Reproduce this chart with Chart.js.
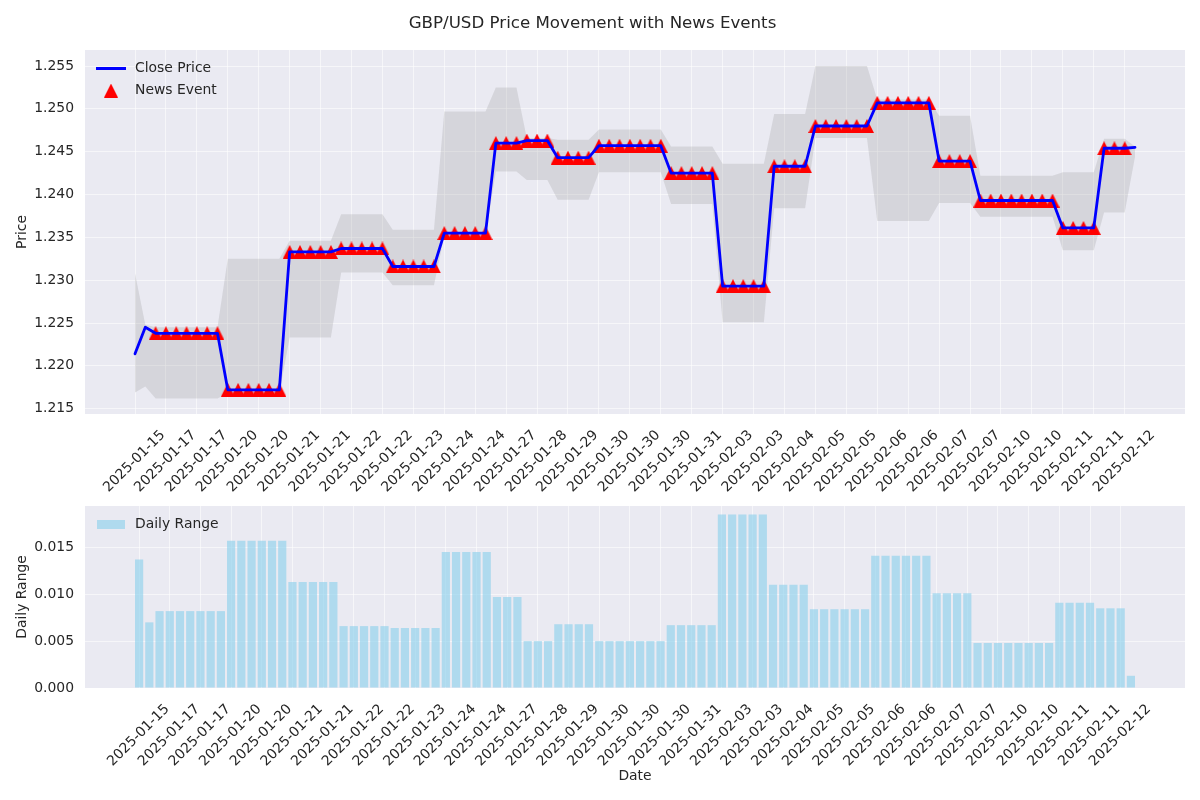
<!DOCTYPE html>
<html>
<head>
<meta charset="utf-8">
<title>GBP/USD Price Movement with News Events</title>
<script src="https://cdn.jsdelivr.net/npm/chart.js@4.4.1/dist/chart.umd.min.js"></script>
<style>
    body { margin: 0; background: #fff; }
    #wrap { position: relative; width: 1200px; height: 800px; }
    canvas { position: absolute; left: 0; }
    #priceChart { top: 0; }
    #rangeChart { top: 500px; }
</style>
</head>
<body>
<div id="wrap">
    <canvas id="priceChart" width="1200" height="500"></canvas>
    <canvas id="rangeChart" width="1200" height="300"></canvas>
</div>
<script>
// one value per bar (98 periods)
const closePrice = [
    1.2214, 1.2245,
    1.2238, 1.2238, 1.2238, 1.2238, 1.2238, 1.2238, 1.2238,
    1.2172, 1.2172, 1.2172, 1.2172, 1.2172, 1.2172,
    1.2333, 1.2333, 1.2333, 1.2333, 1.2333,
    1.2337, 1.2337, 1.2337, 1.2337, 1.2337,
    1.2316, 1.2316, 1.2316, 1.2316, 1.2316,
    1.2355, 1.2355, 1.2355, 1.2355, 1.2355,
    1.2460, 1.2460, 1.2460,
    1.2463, 1.2463, 1.2463,
    1.2443, 1.2443, 1.2443, 1.2443,
    1.2457, 1.2457, 1.2457, 1.2457, 1.2457, 1.2457, 1.2457,
    1.2425, 1.2425, 1.2425, 1.2425, 1.2425,
    1.2293, 1.2293, 1.2293, 1.2293, 1.2293,
    1.2433, 1.2433, 1.2433, 1.2433,
    1.2480, 1.2480, 1.2480, 1.2480, 1.2480, 1.2480,
    1.2507, 1.2507, 1.2507, 1.2507, 1.2507, 1.2507,
    1.2439, 1.2439, 1.2439, 1.2439,
    1.2393, 1.2393, 1.2393, 1.2393, 1.2393, 1.2393, 1.2393, 1.2393,
    1.2361, 1.2361, 1.2361, 1.2361,
    1.2454, 1.2454, 1.2454,
    1.2455
];

const highPrice = [
    1.2308, 1.2248,
    1.2245, 1.2245, 1.2245, 1.2245, 1.2245, 1.2245, 1.2245,
    1.2325, 1.2325, 1.2325, 1.2325, 1.2325, 1.2325,
    1.2346, 1.2346, 1.2346, 1.2346, 1.2346,
    1.2377, 1.2377, 1.2377, 1.2377, 1.2377,
    1.2359, 1.2359, 1.2359, 1.2359, 1.2359,
    1.2497, 1.2497, 1.2497, 1.2497, 1.2497,
    1.2525, 1.2525, 1.2525,
    1.2466, 1.2466, 1.2466,
    1.2464, 1.2464, 1.2464, 1.2464,
    1.2476, 1.2476, 1.2476, 1.2476, 1.2476, 1.2476, 1.2476,
    1.2456, 1.2456, 1.2456, 1.2456, 1.2456,
    1.2436, 1.2436, 1.2436, 1.2436, 1.2436,
    1.2494, 1.2494, 1.2494, 1.2494,
    1.2550, 1.2550, 1.2550, 1.2550, 1.2550, 1.2550,
    1.2511, 1.2511, 1.2511, 1.2511, 1.2511, 1.2511,
    1.2492, 1.2492, 1.2492, 1.2492,
    1.2422, 1.2422, 1.2422, 1.2422, 1.2422, 1.2422, 1.2422, 1.2422,
    1.2426, 1.2426, 1.2426, 1.2426,
    1.2465, 1.2465, 1.2465,
    1.2456
];

const lowPrice = [
    1.2169, 1.2176,
    1.2162, 1.2162, 1.2162, 1.2162, 1.2162, 1.2162, 1.2162,
    1.2168, 1.2168, 1.2168, 1.2168, 1.2168, 1.2168,
    1.2233, 1.2233, 1.2233, 1.2233, 1.2233,
    1.2309, 1.2309, 1.2309, 1.2309, 1.2309,
    1.2294, 1.2294, 1.2294, 1.2294, 1.2294,
    1.2352, 1.2352, 1.2352, 1.2352, 1.2352,
    1.2427, 1.2427, 1.2427,
    1.2417, 1.2417, 1.2417,
    1.2394, 1.2394, 1.2394, 1.2394,
    1.2426, 1.2426, 1.2426, 1.2426, 1.2426, 1.2426, 1.2426,
    1.2389, 1.2389, 1.2389, 1.2389, 1.2389,
    1.2251, 1.2251, 1.2251, 1.2251, 1.2251,
    1.2384, 1.2384, 1.2384, 1.2384,
    1.2466, 1.2466, 1.2466, 1.2466, 1.2466, 1.2466,
    1.2369, 1.2369, 1.2369, 1.2369, 1.2369, 1.2369,
    1.2390, 1.2390, 1.2390, 1.2390,
    1.2374, 1.2374, 1.2374, 1.2374, 1.2374, 1.2374, 1.2374, 1.2374,
    1.2335, 1.2335, 1.2335, 1.2335,
    1.2379, 1.2379, 1.2379,
    1.2444
];

const dailyRange = [
    0.0137, 0.0070,
    0.0082, 0.0082, 0.0082, 0.0082, 0.0082, 0.0082, 0.0082,
    0.0157, 0.0157, 0.0157, 0.0157, 0.0157, 0.0157,
    0.0113, 0.0113, 0.0113, 0.0113, 0.0113,
    0.0066, 0.0066, 0.0066, 0.0066, 0.0066,
    0.0064, 0.0064, 0.0064, 0.0064, 0.0064,
    0.0145, 0.0145, 0.0145, 0.0145, 0.0145,
    0.0097, 0.0097, 0.0097,
    0.0050, 0.0050, 0.0050,
    0.0068, 0.0068, 0.0068, 0.0068,
    0.0050, 0.0050, 0.0050, 0.0050, 0.0050, 0.0050, 0.0050,
    0.0067, 0.0067, 0.0067, 0.0067, 0.0067,
    0.0185, 0.0185, 0.0185, 0.0185, 0.0185,
    0.0110, 0.0110, 0.0110, 0.0110,
    0.0084, 0.0084, 0.0084, 0.0084, 0.0084, 0.0084,
    0.0141, 0.0141, 0.0141, 0.0141, 0.0141, 0.0141,
    0.0101, 0.0101, 0.0101, 0.0101,
    0.0048, 0.0048, 0.0048, 0.0048, 0.0048, 0.0048, 0.0048, 0.0048,
    0.0091, 0.0091, 0.0091, 0.0091,
    0.0085, 0.0085, 0.0085,
    0.0013
];

// 1 = a news event marker sits on that close
const newsEvent = [
    0, 0,
    1, 1, 1, 1, 1, 1, 1, 1, 1, 1, 1, 1, 1, 1, 1, 1, 1, 1, 1, 1, 1, 1,
    1, 1, 1, 1, 1, 1, 1, 1, 1, 1, 1, 1, 1, 1, 1, 1, 1, 1, 1, 1, 1, 1,
    1, 1, 1, 1, 1, 1, 1, 1, 1, 1, 1, 1, 1, 1, 1, 1, 1, 1, 1, 1, 1, 1,
    1, 1, 1, 1, 1, 1, 1, 1, 1, 1, 1, 1, 1, 1, 1, 1, 1, 1, 1, 1, 1, 1,
    1, 1, 1, 1, 1, 1, 1,
    0
];

// labels shown on every third period
const tickLabels = [
    '2025-01-15', '2025-01-17', '2025-01-17', '2025-01-20', '2025-01-20', '2025-01-21',
    '2025-01-21', '2025-01-22', '2025-01-22', '2025-01-23', '2025-01-24', '2025-01-24',
    '2025-01-27', '2025-01-28', '2025-01-29', '2025-01-30', '2025-01-30', '2025-01-30',
    '2025-01-31', '2025-02-03', '2025-02-03', '2025-02-04', '2025-02-05', '2025-02-05',
    '2025-02-06', '2025-02-06', '2025-02-07', '2025-02-07', '2025-02-10', '2025-02-10',
    '2025-02-11', '2025-02-11', '2025-02-12'
];
const tickStep = 3;

const priceTicks = [1.215, 1.220, 1.225, 1.230, 1.235, 1.240, 1.245, 1.250, 1.255];
const rangeTicks = [0, 0.005, 0.010, 0.015];

const TEXT = '#262626';
const GRID = 'rgba(255, 255, 255, 0.55)';

Chart.defaults.font.family = '"DejaVu Sans", sans-serif';
Chart.defaults.font.size = 13.9;
Chart.defaults.color = TEXT;

const toPoints = (arr) => arr.map((y, i) => ({ x: i, y: y }));

function makeIcon(w, h, draw) {
    const c = document.createElement('canvas');
    c.width = w;
    c.height = h;
    draw(c.getContext('2d'), w, h);
    return c;
}

const triangleIcon = makeIcon(14, 14, (g, w, h) => {
    g.fillStyle = '#ff0000';
    g.beginPath();
    g.moveTo(w / 2, 0);
    g.lineTo(w, h);
    g.lineTo(0, h);
    g.closePath();
    g.fill();
});
const lineIcon = makeIcon(30, 3, (g, w, h) => {
    g.fillStyle = '#0000ff';
    g.fillRect(0, 0, w, h);
});
const barIcon = makeIcon(28, 9, (g, w, h) => {
    g.fillStyle = 'rgba(135, 206, 235, 0.6)';
    g.fillRect(0, 0, w, h);
});

const plotBackground = {
    id: 'plotBackground',
    beforeDraw(chart) {
        const { ctx, chartArea } = chart;
        ctx.save();
        ctx.fillStyle = '#eaeaf2';
        ctx.fillRect(chartArea.left, chartArea.top, chartArea.width, chartArea.height);
        ctx.restore();
    }
};

// matplotlib-style legend in the upper left of the plot
const insideLegend = {
    id: 'insideLegend',
    afterDraw(chart) {
        const { ctx, chartArea } = chart;
        const items = chart.data.datasets.filter((ds) => ds.legendIcon);
        ctx.save();
        ctx.font = '13.9px "DejaVu Sans"';
        ctx.textBaseline = 'middle';
        items.forEach((ds, k) => {
            const cy = chartArea.top + 18.5 + k * 22;
            const icon = ds.legendIcon;
            ctx.drawImage(icon, chartArea.left + 26 - icon.width / 2, cy - icon.height / 2);
            ctx.fillStyle = TEXT;
            ctx.fillText(ds.label, chartArea.left + 50, cy);
        });
        ctx.restore();
    }
};

function xAxis(min, max, height, extra) {
    return Object.assign({
        type: 'linear',
        min: min,
        max: max,
        offset: false,
        afterBuildTicks: (scale) => {
            scale.ticks = tickLabels.map((_, k) => ({ value: k * tickStep }));
        },
        afterFit: (scale) => { scale.height = height; },
        border: { display: false },
        grid: { color: GRID, lineWidth: 1, drawTicks: false, offset: false },
        ticks: {
            autoSkip: false,
            maxRotation: 45,
            minRotation: 45,
            labelOffset: 28,
            padding: 13,
            callback: (value, index) => tickLabels[index]
        }
    }, extra || {});
}

function yAxis(min, max, tickValues, digits, title) {
    return {
        min: min,
        max: max,
        afterBuildTicks: (scale) => {
            scale.ticks = tickValues.map((v) => ({ value: v }));
        },
        afterFit: (scale) => {
            scale.width = 85;
            scale.paddingTop = 0;
            scale.paddingBottom = 0;
        },
        border: { display: false },
        grid: { color: GRID, lineWidth: 1, drawTicks: false },
        ticks: {
            padding: 11,
            callback: (value) => Number(value).toFixed(digits)
        },
        title: {
            display: true,
            text: title,
            color: TEXT,
            padding: { top: 13.7, bottom: 0 }
        }
    };
}

new Chart(document.getElementById('priceChart'), {
    type: 'line',
    data: {
        datasets: [
            {
                label: 'Close Price',
                data: toPoints(closePrice),
                borderColor: '#0000ff',
                borderWidth: 2.8,
                borderJoinStyle: 'round',
                borderCapStyle: 'round',
                pointRadius: 0,
                fill: false,
                order: 0,
                legendIcon: lineIcon
            },
            {
                label: 'News Event',
                data: toPoints(closePrice).filter((p) => newsEvent[p.x] === 1),
                showLine: false,
                pointStyle: triangleIcon,
                pointRadius: 7,
                fill: false,
                order: 1,
                legendIcon: triangleIcon
            },
            {
                label: 'High',
                data: toPoints(highPrice),
                borderColor: 'transparent',
                borderWidth: 0,
                pointRadius: 0,
                backgroundColor: 'rgba(128, 128, 128, 0.2)',
                fill: '+1',
                order: 2
            },
            {
                label: 'Low',
                data: toPoints(lowPrice),
                borderColor: 'transparent',
                borderWidth: 0,
                pointRadius: 0,
                fill: false,
                order: 3
            }
        ]
    },
    options: {
        responsive: false,
        animation: false,
        events: [],
        layout: { padding: { left: 0, right: 15, top: 0, bottom: 0 } },
        plugins: {
            legend: { display: false },
            tooltip: { enabled: false },
            title: {
                display: true,
                text: 'GBP/USD Price Movement with News Events',
                color: TEXT,
                font: { size: 16.67, weight: 'normal' },
                padding: { top: 14, bottom: 16 }
            }
        },
        scales: {
            x: xAxis(-4.85, 101.85, 86),
            y: yAxis(1.21438, 1.25687, priceTicks, 3, 'Price')
        }
    },
    plugins: [plotBackground, insideLegend]
});

new Chart(document.getElementById('rangeChart'), {
    type: 'bar',
    data: {
        datasets: [{
            label: 'Daily Range',
            data: toPoints(dailyRange),
            backgroundColor: 'rgba(135, 206, 235, 0.6)',
            borderWidth: 0,
            barPercentage: 0.8,
            categoryPercentage: 1.0,
            legendIcon: barIcon
        }]
    },
    options: {
        responsive: false,
        animation: false,
        events: [],
        layout: { padding: { left: 0, right: 15, top: 6, bottom: 0 } },
        plugins: {
            legend: { display: false },
            tooltip: { enabled: false }
        },
        scales: {
            x: xAxis(-5.29, 102.29, 112, {
                title: {
                    display: true,
                    text: 'Date',
                    color: TEXT,
                    padding: { top: 0, bottom: 15.7 }
                }
            }),
            y: yAxis(0, 0.01941, rangeTicks, 3, 'Daily Range')
        }
    },
    plugins: [plotBackground, insideLegend]
});
</script>
</body>
</html>
